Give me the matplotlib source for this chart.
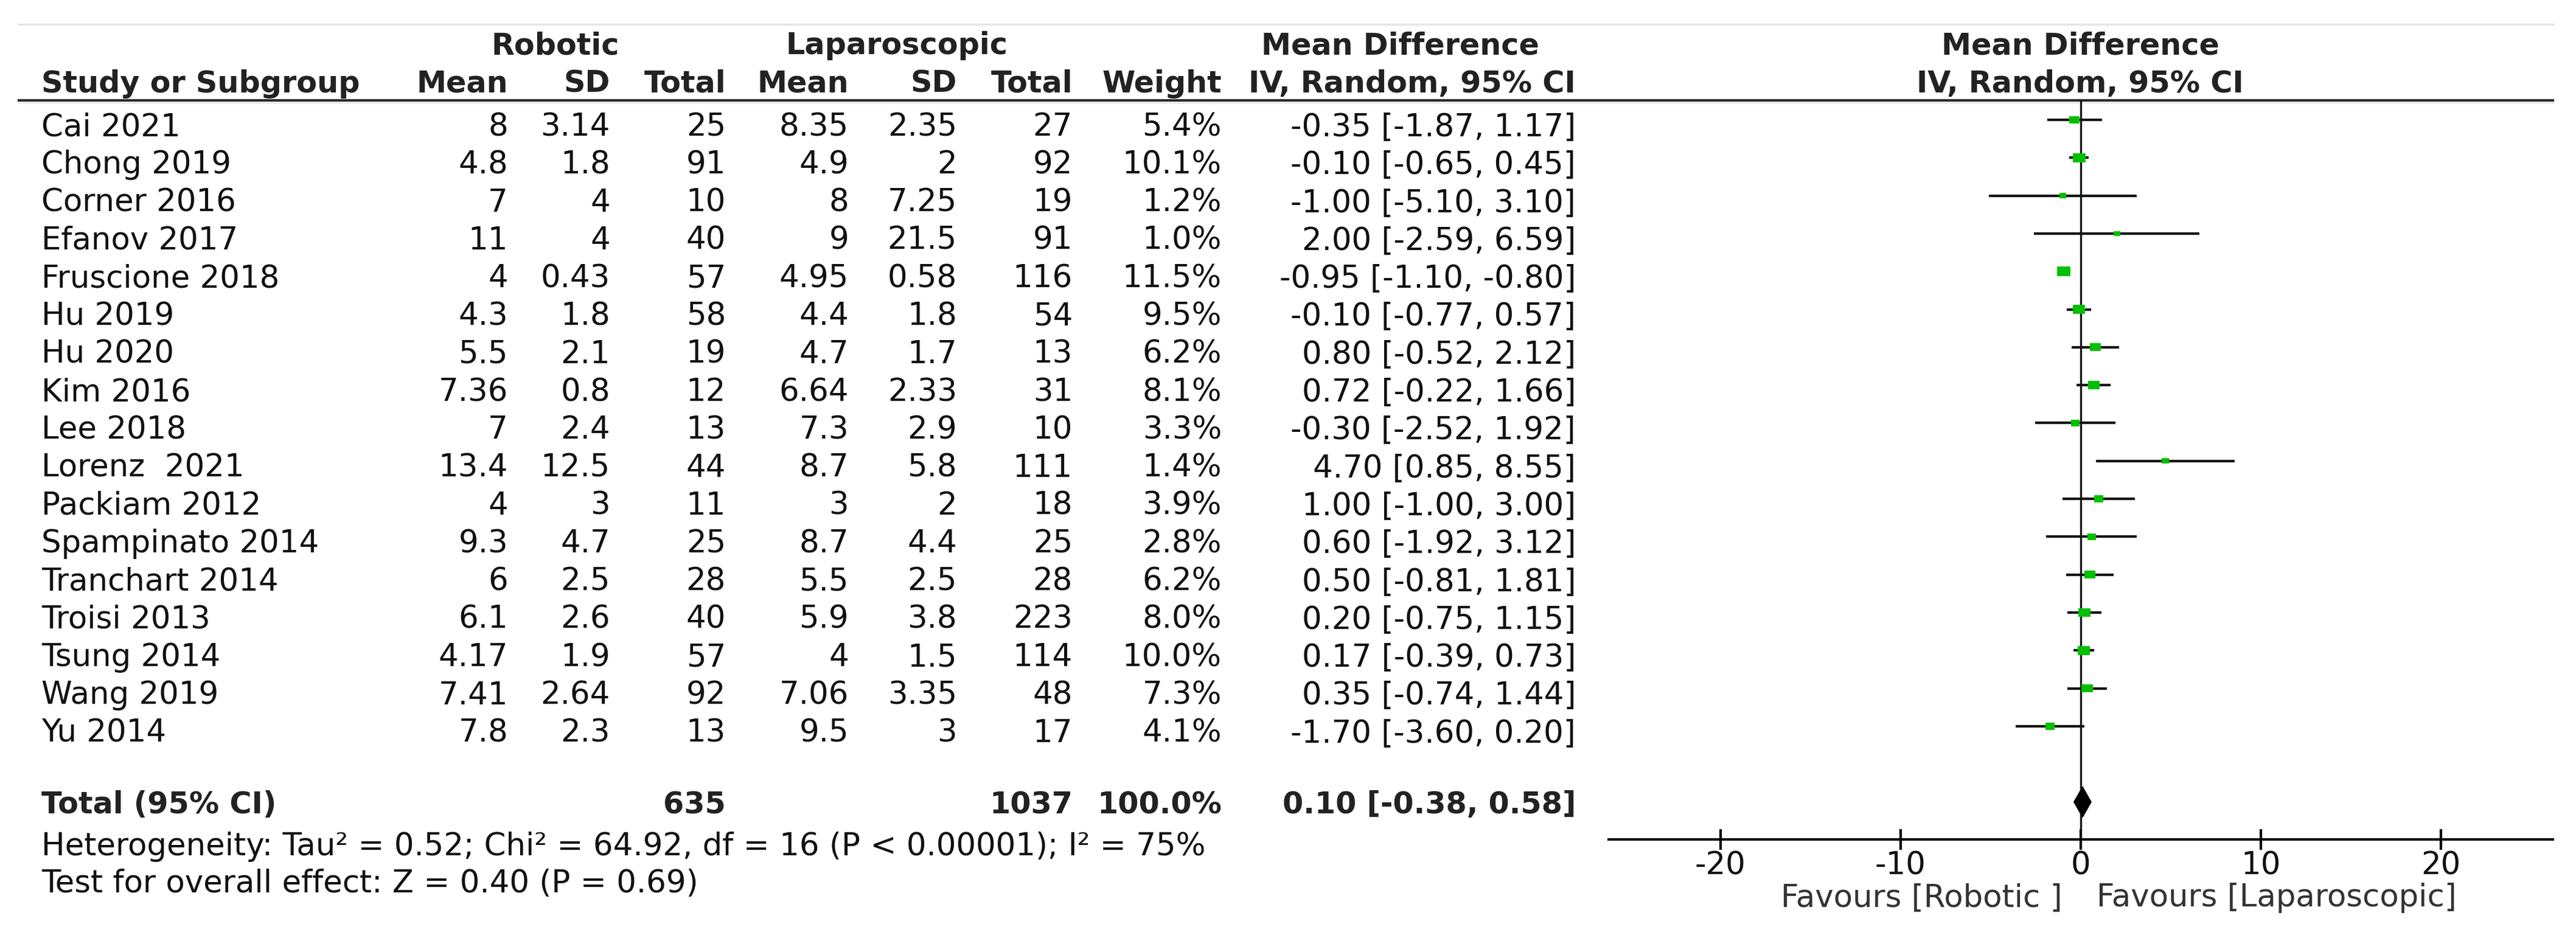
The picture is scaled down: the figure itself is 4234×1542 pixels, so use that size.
import numpy as np
import matplotlib.pyplot as plt
from matplotlib.patches import Rectangle, Polygon

# Study data
studies = ['Cai 2021', 'Chong 2019', 'Corner 2016', 'Efanov 2017', 'Fruscione 2018',
           'Hu 2019', 'Hu 2020', 'Kim 2016', 'Lee 2018', 'Lorenz  2021', 'Packiam 2012',
           'Spampinato 2014', 'Tranchart 2014', 'Troisi 2013', 'Tsung 2014', 'Wang 2019', 'Yu 2014']
rob_mean = [8, 4.8, 7, 11, 4, 4.3, 5.5, 7.36, 7, 13.4, 4, 9.3, 6, 6.1, 4.17, 7.41, 7.8]
rob_sd = [3.14, 1.8, 4, 4, 0.43, 1.8, 2.1, 0.8, 2.4, 12.5, 3, 4.7, 2.5, 2.6, 1.9, 2.64, 2.3]
rob_n = [25, 91, 10, 40, 57, 58, 19, 12, 13, 44, 11, 25, 28, 40, 57, 92, 13]
lap_mean = [8.35, 4.9, 8, 9, 4.95, 4.4, 4.7, 6.64, 7.3, 8.7, 3, 8.7, 5.5, 5.9, 4, 7.06, 9.5]
lap_sd = [2.35, 2, 7.25, 21.5, 0.58, 1.8, 1.7, 2.33, 2.9, 5.8, 2, 4.4, 2.5, 3.8, 1.5, 3.35, 3]
lap_n = [27, 92, 19, 91, 116, 54, 13, 31, 10, 111, 18, 25, 28, 223, 114, 48, 17]
weight = [5.4, 10.1, 1.2, 1.0, 11.5, 9.5, 6.2, 8.1, 3.3, 1.4, 3.9, 2.8, 6.2, 8.0, 10.0, 7.3, 4.1]
md = [-0.35, -0.10, -1.00, 2.00, -0.95, -0.10, 0.80, 0.72, -0.30, 4.70, 1.00, 0.60, 0.50, 0.20, 0.17, 0.35, -1.70]
ci_lo = [-1.87, -0.65, -5.10, -2.59, -1.10, -0.77, -0.52, -0.22, -2.52, 0.85, -1.00, -1.92, -0.81, -0.75, -0.39, -0.74, -3.60]
ci_hi = [1.17, 0.45, 3.10, 6.59, -0.80, 0.57, 2.12, 1.66, 1.92, 8.55, 3.00, 3.12, 1.81, 1.15, 0.73, 1.44, 0.20]

# Pooled result
total_rob, total_lap = 635, 1037
pooled_md, pooled_lo, pooled_hi = 0.10, -0.38, 0.58
het_text = 'Heterogeneity: Tau² = 0.52; Chi² = 64.92, df = 16 (P < 0.00001); I² = 75%'
effect_text = 'Test for overall effect: Z = 0.40 (P = 0.69)'
x_ticks = [-20, -10, 0, 10, 20]

plt.rcParams['font.family'] = ['DejaVu Sans']
FS = 37
FSB = 35.5
TXT = '#111111'

W, H = 4234, 1542
fig = plt.figure(figsize=(W / 100, H / 100), dpi=100)

# table area in pixel units
ax = fig.add_axes([0, 0, 1, 1])
ax.set_xlim(0, W)
ax.set_ylim(H, 0)
ax.axis('off')

# rules
ax.plot([31, 4196], [40, 40], color='#e6e6e6', lw=2.5)
ax.plot([31, 4196], [169, 169], color='#ececec', lw=3)
ax.plot([31, 4196], [165, 165], color='#2b2b2b', lw=3)

# headers
h1, h2 = 89, 152
ax.text(913, h1, 'Robotic', ha='center', va='baseline', fontsize=FSB, fontweight='bold', color='#222')
ax.text(1474, h1, 'Laparoscopic', ha='center', va='baseline', fontsize=FSB, fontweight='bold', color='#222')
ax.text(2301, h1, 'Mean Difference', ha='center', va='baseline', fontsize=FSB, fontweight='bold', color='#222')
ax.text(3419, h1, 'Mean Difference', ha='center', va='baseline', fontsize=FSB, fontweight='bold', color='#222')
ax.text(68, h2, 'Study or Subgroup', ha='left', va='baseline', fontsize=FSB, fontweight='bold', color='#222')
col_x = [835, 1003, 1193, 1395, 1573, 1763, 2008, 2590]
col_names = ['Mean', 'SD', 'Total', 'Mean', 'SD', 'Total', 'Weight', 'IV, Random, 95% CI']
for cx, nm in zip(col_x, col_names):
    ax.text(cx, h2, nm, ha='right', va='baseline', fontsize=FSB, fontweight='bold', color='#222')
ax.text(3419, h2, 'IV, Random, 95% CI', ha='center', va='baseline', fontsize=FSB, fontweight='bold', color='#222')

# study rows
row0, step = 223, 62.3
for i, s in enumerate(studies):
    y = row0 + step * i
    vals = [f'{rob_mean[i]:g}', f'{rob_sd[i]:g}', f'{rob_n[i]}',
            f'{lap_mean[i]:g}', f'{lap_sd[i]:g}', f'{lap_n[i]}',
            f'{weight[i]:.1f}%', f'{md[i]:.2f} [{ci_lo[i]:.2f}, {ci_hi[i]:.2f}]']
    ax.text(68, y, s, ha='left', va='baseline', fontsize=FS, color=TXT)
    for cx, v in zip(col_x, vals):
        ax.text(cx, y, v, ha='right', va='baseline', fontsize=FS, color=TXT)

# total row
yt = 1337
ax.text(68, yt, 'Total (95% CI)', ha='left', va='baseline', fontsize=FSB, fontweight='bold', color='#222')
ax.text(col_x[2], yt, str(total_rob), ha='right', va='baseline', fontsize=FSB, fontweight='bold', color='#222')
ax.text(col_x[5], yt, str(total_lap), ha='right', va='baseline', fontsize=FSB, fontweight='bold', color='#222')
ax.text(col_x[6], yt, f'{sum(weight):.1f}%', ha='right', va='baseline', fontsize=FSB, fontweight='bold', color='#222')
ax.text(col_x[7], yt, f'{pooled_md:.2f} [{pooled_lo:.2f}, {pooled_hi:.2f}]', ha='right', va='baseline',
        fontsize=FSB, fontweight='bold', color='#222')
ax.text(68, 1406, het_text, ha='left', va='baseline', fontsize=FS, color=TXT)
ax.text(68, 1467, effect_text, ha='left', va='baseline', fontsize=FS, color=TXT)

# forest plot
x0, x1, ytop, ybot = 2644, 4196, 165, 1380
fax = fig.add_axes([x0 / W, (H - ybot) / H, (x1 - x0) / W, (ybot - ytop) / H])
fax.set_xlim(-26.2, 26.2)
mrow0 = 197
fax.set_ylim((ybot - mrow0) / step, (ytop - mrow0) / step)
fax.patch.set_alpha(0)
for sp in ['top', 'left', 'right']:
    fax.spines[sp].set_visible(False)
fax.spines['bottom'].set_linewidth(3)
fax.set_yticks([])
fax.set_xticks(x_ticks)
fax.set_xticklabels([str(t) for t in x_ticks])
fax.tick_params(axis='x', direction='inout', length=24, width=3, pad=1, labelsize=FS, labelcolor=TXT)

fax.axvline(0, color='k', lw=2.2, zorder=1)
rows = np.arange(len(studies))
fax.hlines(rows, ci_lo, ci_hi, color='#111', lw=3, zorder=2)
ppu = (x1 - x0) / 52.4
for r, m, w in zip(rows, md, weight):
    f = np.sqrt(w / 11.5)
    bw = (6 + 16 * f) / ppu
    bh = (5 + 11 * f) / step
    fax.add_patch(Rectangle((m - bw / 2, r - bh / 2), bw, bh, color='#00c000', zorder=3, lw=0))

# pooled diamond
dr = 18
dh = 25 / step
fax.add_patch(Polygon([(pooled_lo, dr), (pooled_md, dr - dh), (pooled_hi, dr), (pooled_md, dr + dh)],
                      closed=True, color='k', zorder=4))

fax.annotate('Favours [Robotic ]', xy=(0, 0), xycoords=('data', 'axes fraction'),
             xytext=(-22, -79), textcoords='offset points', ha='right', va='baseline',
             fontsize=FS, color='#333')
fax.annotate('Favours [Laparoscopic]', xy=(0, 0), xycoords=('data', 'axes fraction'),
             xytext=(19, -79), textcoords='offset points', ha='left', va='baseline',
             fontsize=FS, color='#333')

fig.savefig('out.png', dpi=100, facecolor='white')
